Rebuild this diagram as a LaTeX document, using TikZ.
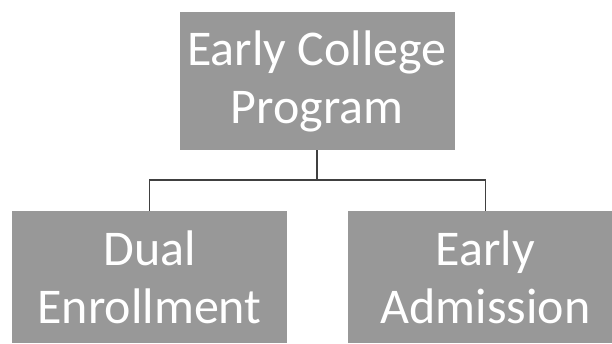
\documentclass[tikz,border=0pt]{standalone}
\usepackage{fontspec}
\setmainfont{Carlito}
\usetikzlibrary{positioning}
\definecolor{boxgray}{RGB}{152,152,152}
\tikzset{
  box/.style={rectangle, fill=boxgray, text=white, minimum width=275pt, minimum height=138pt, inner sep=0pt, align=center, font=\fontsize{50}{58}\selectfont},
  connect/.style={draw=black!75, line width=1.2pt}
}

\begin{document}
\begin{tikzpicture}[x=1pt,y=-1pt]
	\useasboundingbox (0,0) rectangle (612,343);
	\clip (0,0) rectangle (612,343);
	\node[box] (ecp) at (317,81) {Early College\\Program};
	\node[box, minimum height=132pt] (dual) at (149.5,277) {Dual\\Enrollment};
	\node[box, minimum height=132pt] (adm) at (485.5,277) {Early\\Admission};

	\coordinate (split) at (317,180);
	\path[connect] (ecp.south) -- (split);
	\path[connect] (dual.north) |- (split) -| (adm.north);
\end{tikzpicture}
\end{document}
